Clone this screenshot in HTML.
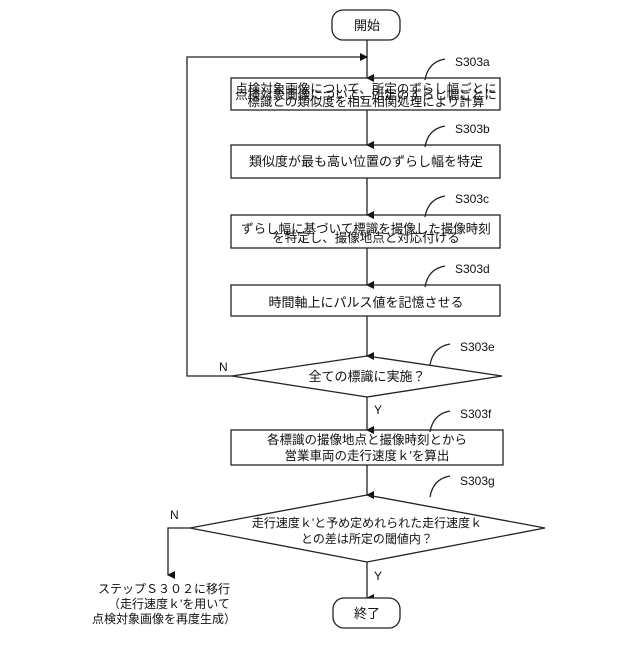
<!DOCTYPE html>
<html><head><meta charset="utf-8"><style>
body{margin:0;background:#fff}
svg text{font-family:"Liberation Sans","Noto Sans CJK JP",sans-serif;fill:#111}
</style></head><body>
<svg width="640" height="640" viewBox="0 0 640 640" xmlns="http://www.w3.org/2000/svg">
<defs><marker id="a" markerWidth="8" markerHeight="8" refX="4" refY="7" orient="auto" markerUnits="userSpaceOnUse"><path d="M0,0 L8,0 L4,8z" fill="#111"/></marker>
<marker id="r" markerWidth="8" markerHeight="8" refX="7" refY="4" orient="auto" markerUnits="userSpaceOnUse"><path d="M0,0 L8,4 L0,8z" fill="#111"/></marker></defs>
<g stroke="#222" stroke-width="1.3" fill="none">
<rect x="332" y="10" width="68" height="30" rx="11" fill="#fff"/>
<line x1="367" y1="40" x2="367" y2="78" marker-end="url(#a)"/>
<polyline points="233,376 187,376 187,57 367,57" marker-end="url(#r)"/>
<rect x="231" y="78" width="269" height="32"/>
<line x1="367" y1="110" x2="367" y2="145" marker-end="url(#a)"/>
<rect x="231" y="145" width="269" height="33"/>
<line x1="367" y1="178" x2="367" y2="215" marker-end="url(#a)"/>
<rect x="231" y="215" width="269" height="33"/>
<line x1="367" y1="248" x2="367" y2="285" marker-end="url(#a)"/>
<rect x="231" y="285" width="269" height="31"/>
<line x1="367" y1="316" x2="367" y2="356" marker-end="url(#a)"/>
<polygon points="232,376 367,356 502,376 367,397"/>
<line x1="367" y1="397" x2="367" y2="430" marker-end="url(#a)"/>
<rect x="231" y="430" width="272" height="35"/>
<line x1="367" y1="465" x2="367" y2="495" marker-end="url(#a)"/>
<polygon points="190,528 367,495 545,528 367,562"/>
<polyline points="190,528 168,528 168,575" marker-end="url(#a)"/>
<line x1="367" y1="562" x2="367" y2="598" marker-end="url(#a)"/>
<rect x="333" y="598" width="67" height="30" rx="11" fill="#fff"/>
<path d="M425,80 Q428,62 445,59"/>
<path d="M425,147 Q428,129 445,126"/>
<path d="M425,217 Q428,199 445,196"/>
<path d="M425,287 Q428,269 445,266"/>
<path d="M430,365 Q433,347 450,344"/>
<path d="M430,432 Q433,414 450,411"/>
<path d="M430,497 Q433,479 450,476"/>
</g>
<g font-size="13">
<text x="367" y="30" text-anchor="middle">開始</text>
<text x="366" y="99" text-anchor="middle" font-size="12.5">点検対象画像について、所定のずらし幅ごとに</text>
<text x="366" y="104" text-anchor="middle" dy="0" font-size="0"> </text>
<text x="366" y="106" text-anchor="middle" font-size="0"></text>
<text x="366" y="166" text-anchor="middle">類似度が最も高い位置のずらし幅を特定</text>
<text x="366" y="307" text-anchor="middle">時間軸上にパルス値を記憶させる</text>
<text x="367" y="381" text-anchor="middle">全ての標識に実施？</text>
<text x="219" y="371" font-size="12">N</text>
<text x="374" y="414" font-size="12">Y</text>
<text x="170" y="519" font-size="12">N</text>
<text x="374" y="580" font-size="12">Y</text>
<text x="367" y="618" text-anchor="middle">終了</text>
</g>
<g font-size="12.5">
<text x="366" y="93" text-anchor="middle">点検対象画像について、所定のずらし幅ごとに</text>
<text x="366" y="106" text-anchor="middle">標識との類似度を相互相関処理により計算</text>
<text x="366" y="233" text-anchor="middle">ずらし幅に基づいて標識を撮像した撮像時刻</text>
<text x="366" y="246" text-anchor="middle" dy="-4">を特定し、撮像地点と対応付ける</text>
<text x="367" y="444" text-anchor="middle" dy="0">各標識の撮像地点と撮像時刻とから</text>
<text x="367" y="460" text-anchor="middle">営業車両の走行速度ｋ'を算出</text>
<text x="367" y="527" text-anchor="middle" font-size="12">走行速度ｋ'と予め定めれられた走行速度ｋ</text>
<text x="367" y="543" text-anchor="middle" font-size="12">との差は所定の閾値内？</text>
<text x="98" y="593" font-size="12">ステップＳ３０２に移行</text>
<text x="108" y="608" font-size="12">（走行速度ｋ'を用いて</text>
<text x="92" y="623" font-size="12">点検対象画像を再度生成）</text>
</g>
<g font-size="12">
<text x="455" y="66">S303a</text>
<text x="455" y="133">S303b</text>
<text x="455" y="203">S303c</text>
<text x="455" y="273">S303d</text>
<text x="460" y="351">S303e</text>
<text x="460" y="418">S303f</text>
<text x="460" y="485">S303g</text>
</g>
</svg>
</body></html>
